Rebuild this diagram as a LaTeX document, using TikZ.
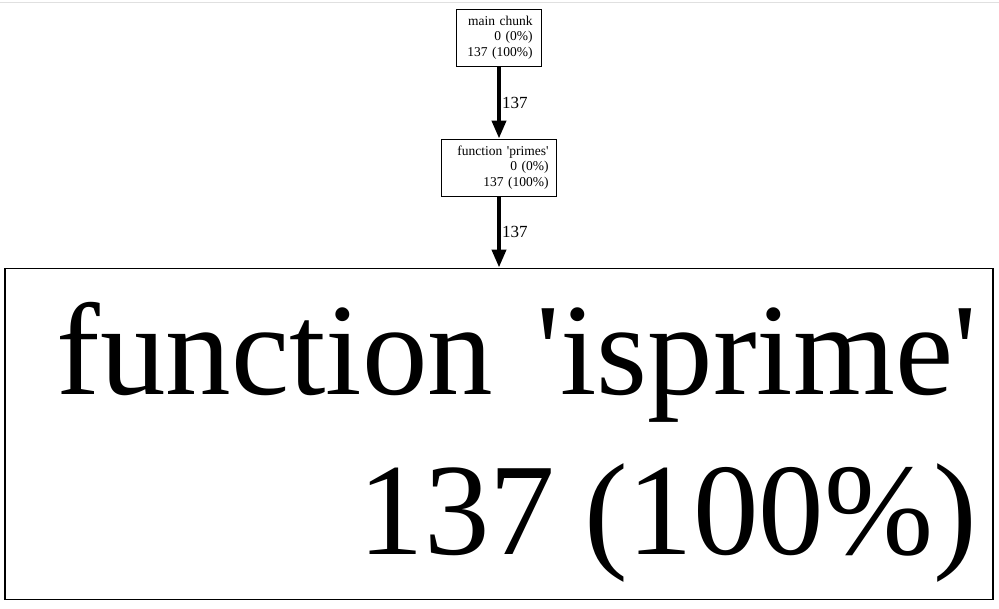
\documentclass[tikz,border=0pt]{standalone}
\usepackage{fontspec}
\newfontfamily\gvfont{Liberation Serif}
\usepackage{tikz}
\usetikzlibrary{arrows.meta, positioning}
\tikzset{
  callbox/.style={rectangle,draw=black,line width=1pt,align=right,
    font=\gvfont\fontsize{13.5}{15.5}\selectfont,minimum height=57pt},
  bigbox/.style={rectangle,draw=black,line width=1.2pt,align=right,
    font=\gvfont\fontsize{131}{160}\selectfont,inner xsep=16pt,
    text width=956pt,text height=100pt,text depth=179pt,minimum height=331pt},
  callarrow/.style={-{Triangle[length=18pt,width=14pt]},line width=4pt,color=black},
  countlabel/.style={right,font=\gvfont\fontsize{17}{20}\selectfont,inner xsep=1pt}
}
\begin{document}
\begin{tikzpicture}[x=1pt,y=-1pt,node distance=72pt]
  \useasboundingbox (0,0) rectangle (999,608);
  \draw[black!12,line width=1pt] (0,2) -- (999,2);
  \node[callbox,inner xsep=9pt,text width=67pt] (mc) at (499,37.5) {main chunk\\0 (0\%)\\137 (100\%)};
  \node[callbox,inner xsep=8pt,text width=99pt,below=of mc] (pr) {function 'primes'\\0 (0\%)\\137 (100\%)};
  \node[bigbox,below=71pt of pr] (ip) {function 'isprime'\\137\kern-15pt\ (100\%)};
  \foreach \a/\b in {mc/pr,pr/ip} \draw[callarrow] (\a)--(\b) node[countlabel,midway] {137};
\end{tikzpicture}
\end{document}
